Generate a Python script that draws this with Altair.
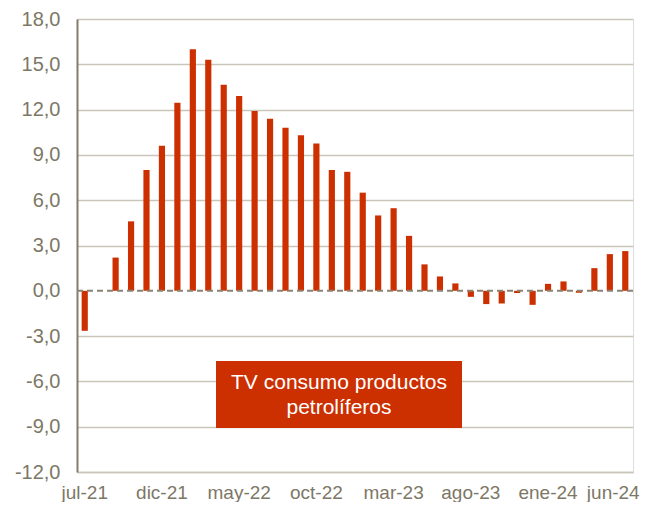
import altair as alt
import pandas as pd

months = ["jul-21","ago-21","sep-21","oct-21","nov-21","dic-21",
          "ene-22","feb-22","mar-22","abr-22","may-22","jun-22",
          "jul-22","ago-22","sep-22","oct-22","nov-22","dic-22",
          "ene-23","feb-23","mar-23","abr-23","may-23","jun-23",
          "jul-23","ago-23","sep-23","oct-23","nov-23","dic-23",
          "ene-24","feb-24","mar-24","abr-24","may-24","jun-24"]
values = [-2.65, 0.0, 2.2, 4.6, 8.0, 9.6,
          12.45, 16.0, 15.3, 13.65, 12.9, 11.9,
          11.4, 10.8, 10.3, 9.75, 8.0, 7.88,
          6.5, 4.99, 5.47, 3.64, 1.75, 0.95,
          0.49, -0.4, -0.88, -0.84, -0.15, -0.93,
          0.46, 0.62, -0.13, 1.5, 2.43, 2.63]
shown_labels = ["jul-21","dic-21","may-22","oct-22","mar-23","ago-23","ene-24","jun-24"]
y_ticks = [-12, -9, -6, -3, 0, 3, 6, 9, 12, 15, 18]
box_text = ["TV consumo productos", "petrolíferos"]

RED = "#cc2f00"
LABEL = "#7d7766"
FONT = "Liberation Sans"

df = pd.DataFrame({"mes": months, "tv": values})

base = alt.Chart(df)

bars = base.mark_bar(color=RED).encode(
    x=alt.X("mes:N", sort=months,
            scale=alt.Scale(paddingInner=0.6, paddingOuter=0.3),
            axis=alt.Axis(values=shown_labels, labelAngle=0, title=None,
                          ticks=False, domainColor="#c9c5b9", domainWidth=1.5,
                          labelColor=LABEL, labelFont=FONT, labelFontSize=19,
                          labelPadding=11, labelOverlap=False, labelBound=False,
                          labelOffset=alt.condition("datum.value == 'jun-24'", alt.value(-12), alt.value(0)))),
    y=alt.Y("tv:Q", scale=alt.Scale(domain=[-12, 18], nice=False),
            axis=alt.Axis(values=y_ticks, title=None, ticks=False,
                          labelExpr="datum.value + ',0'",
                          labelColor=LABEL, labelFont=FONT, labelFontSize=20,
                          labelPadding=17,
                          grid=True, gridColor="#c9c5b9", gridWidth=1.5,
                          gridOpacity=alt.condition("datum.value == 0", alt.value(0), alt.value(1)),
                          domainColor="#857d6a", domainWidth=2)),
)

zero = alt.Chart(pd.DataFrame({"z": [0]})).mark_rule(
    color="#8a8272", strokeWidth=2, strokeDash=[6, 4]
).encode(y="z:Q")

box = alt.Chart(pd.DataFrame({"a": [0]})).mark_rect(color=RED).encode(
    x=alt.value(139), x2=alt.value(385), y=alt.value(342), y2=alt.value(409)
)

text = alt.Chart(pd.DataFrame({"t": [box_text]})).mark_text(
    color="white", font=FONT, fontSize=21, lineHeight=25, align="center", baseline="middle"
).encode(x=alt.value(262), y=alt.value(364), text="t")

chart = alt.layer(bars, zero, box, text).properties(
    width=556, height=453,
    autosize=alt.AutoSizeParams(type="none"),
    padding={"left": 69, "top": 11, "right": 14, "bottom": 30},
).configure_view(stroke=None).configure(background="white")

chart.save("out.html", embed_options={"renderer": "svg", "actions": False})
